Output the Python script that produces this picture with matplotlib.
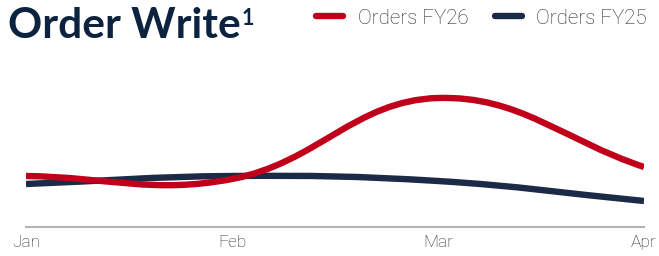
import matplotlib.pyplot as plt
from matplotlib.path import Path
from matplotlib.patches import PathPatch
from matplotlib.lines import Line2D
import numpy as np

months = ['Jan', 'Feb', 'Mar', 'Apr']
orders_fy26 = [51, 48, 129, 60]
orders_fy25 = [43, 51, 46, 26]

RED = '#c0001a'
NAVY = '#1b2a47'
TITLE = '#0c2340'


def bezier_path(xs, ys, sx=206.0, sy=1.0, tension=0.4):
    # chart.js style smoothing, computed in pixel-ish space
    px = np.asarray(xs, float) * sx
    py = np.asarray(ys, float) * sy
    n = len(px)
    cps = []
    for i in range(n):
        p0 = i - 1 if i > 0 else i
        p2 = i + 1 if i < n - 1 else i
        d01 = np.hypot(px[i] - px[p0], py[i] - py[p0])
        d12 = np.hypot(px[p2] - px[i], py[p2] - py[i])
        tot = d01 + d12
        s01 = d01 / tot if tot else 0
        s12 = d12 / tot if tot else 0
        fa, fb = tension * s01, tension * s12
        dx, dy = px[p2] - px[p0], py[p2] - py[p0]
        cps.append(((px[i] - fa * dx, py[i] - fa * dy), (px[i] + fb * dx, py[i] + fb * dy)))
    verts = [(px[0], py[0])]
    codes = [Path.MOVETO]
    for i in range(n - 1):
        verts += [cps[i][1], cps[i + 1][0], (px[i + 1], py[i + 1])]
        codes += [Path.CURVE4] * 3
    verts = [(x / sx, y / sy) for x, y in verts]
    return Path(verts, codes)


fig = plt.figure(figsize=(6.59, 2.56), dpi=100)
ax = fig.add_axes([26 / 659, 29 / 256, 618 / 659, 167 / 256])
x = np.arange(len(months))

for vals, col in [(orders_fy25, NAVY), (orders_fy26, RED)]:
    ax.add_patch(PathPatch(bezier_path(x, vals), facecolor='none', edgecolor=col,
                           lw=4.6, capstyle='butt', joinstyle='round'))

ax.set_xlim(0, 3)
ax.set_ylim(0, 167)
for s in ['top', 'right', 'left']:
    ax.spines[s].set_visible(False)
ax.spines['bottom'].set_color('#b3b3b3')
ax.spines['bottom'].set_linewidth(1.5)
ax.set_yticks([])
ax.set_xticks(x)
ax.set_xticklabels(months, fontsize=12.5, color='#2b2b2b', family='Roboto', fontweight='light')
ax.tick_params(axis='x', length=0, pad=6)

fig.text(8 / 659, 1 - 38 / 256, 'Order Write', fontsize=30.5, fontweight='bold',
         color=TITLE, family='Lato', va='baseline', ha='left')
fig.text(242 / 659, 1 - 25 / 256, '1', fontsize=15.5, fontweight='bold',
         color=TITLE, family='Lato', va='baseline', ha='left')

handles = [Line2D([], [], color=RED, lw=4.6, solid_capstyle='round'),
           Line2D([], [], color=NAVY, lw=4.6, solid_capstyle='round')]
leg = fig.legend(handles, ['Orders FY26', 'Orders FY25'], loc='center right',
                 bbox_to_anchor=(1.0, 1 - 18 / 256), ncol=2, frameon=False,
                 prop={'family': 'Roboto', 'size': 14.8, 'weight': 'light'}, handlelength=1.3,
                 handletextpad=0.7, columnspacing=1.3, borderaxespad=0.2)
for t in leg.get_texts():
    t.set_color('#2b2b2b')

plt.savefig('out.png', dpi=100)
